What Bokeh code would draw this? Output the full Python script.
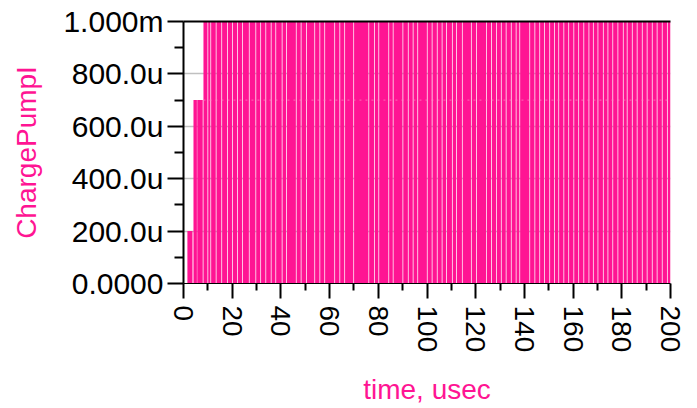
import math
from bokeh.plotting import figure
from bokeh.models import FixedTicker, Range1d, LinearAxis, ColumnDataSource
from bokeh.embed import file_html
from bokeh.resources import INLINE

# ---- data (time in usec, current in uA) ----
# early, lower-level pulses: [start, end, level]
early_start = [1.6, 4.1, 5.65]
early_end = [3.7, 5.5, 7.9]
early_level = [200, 700, 700]

# full-scale region: current is at 1000 uA except for short drop-outs
full_start = 8.2
full_end = 200.0
full_level = 1000
# drop-out (gap) centres, usec
gap_centres = [10.0, 11.2, 13.4, 15.7, 18.1, 20.1, 22.2, 24.2, 27.0, 29.7,
               31.7, 33.8, 36.0, 37.9, 40.5, 42.3, 46.3, 48.3, 50.5, 53.9,
               56.0, 58.0, 62.1, 64.2, 66.2, 69.9, 76.1, 78.4, 80.2, 84.3,
               86.1, 90.1, 92.3, 94.3, 96.2, 100.1, 102.1, 104.2, 106.2, 108.0,
               110.4, 112.1, 114.5, 118.2, 120.3, 124.4, 126.5, 128.5, 130.5,
               132.5, 134.6, 136.6, 138.1, 142.2, 144.3, 146.3, 148.3, 150.4,
               152.4, 154.1, 156.2, 158.2, 160.3, 162.3, 164.4, 166.5, 168.3,
               170.2, 172.4, 174.3, 176.3, 178.4, 180.6, 182.2, 184.3, 186.3,
               188.4, 190.4, 192.5, 194.5, 196.6, 198.7]
gap_width = 0.3
settle_level = 700

x_ticks = [0, 20, 40, 60, 80, 100, 120, 140, 160, 180, 200]
x_minor = [10, 30, 50, 70, 90, 110, 130, 150, 170, 190]
y_ticks = [0, 200, 400, 600, 800, 1000]
y_minor = [100, 300, 500, 700, 900]
y_labels = ["0.0000", "200.0u", "400.0u", "600.0u", "800.0u", "1.000m"]

PINK = "#ff1493"
FONT = "Liberation Sans"

# build high intervals from the gap list
starts, ends, levels = list(early_start), list(early_end), list(early_level)
cur = full_start
for g in gap_centres:
    starts.append(cur)
    ends.append(g - gap_width / 2)
    levels.append(full_level)
    cur = g + gap_width / 2
starts.append(cur)
ends.append(full_end)
levels.append(full_level)

src = ColumnDataSource(dict(left=starts, right=ends, top=levels, bottom=[0] * len(starts)))

p = figure(width=697, height=408, output_backend="svg", toolbar_location=None,
           x_range=Range1d(0, 200), y_range=Range1d(0, 1000),
           min_border_left=183, min_border_right=27, min_border_top=21,
           min_border_bottom=120)
p.outline_line_color = None
p.background_fill_color = "white"
p.border_fill_color = "white"

p.xgrid.visible = False
p.ygrid.grid_line_color = "#c0c0c0"
p.ygrid.grid_line_width = 1.5

p.quad(left="left", right="right", top="top", bottom="bottom", source=src,
       fill_color=PINK, line_color=None)
p.line(x=[full_start, full_end], y=[settle_level, settle_level],
       line_color="#ff8cc8", line_dash="2 4", line_width=1, line_alpha=0.7)

# y axis
ya = p.yaxis[0]
ya.ticker = FixedTicker(ticks=y_ticks, minor_ticks=y_minor)
ya.major_label_overrides = dict(zip(y_ticks, y_labels))
ya.major_tick_out = 16
ya.major_tick_in = 0
ya.minor_tick_out = 9
ya.minor_tick_in = 0
ya.major_label_standoff = 4
ya.axis_line_width = 2
ya.major_tick_line_width = 2
ya.minor_tick_line_width = 2
ya.major_label_text_font = FONT
ya.major_label_text_font_size = "30px"
ya.major_label_text_color = "black"
ya.axis_label = "ChargePumpI"
ya.axis_label_text_color = PINK
ya.axis_label_text_font = FONT
ya.axis_label_text_font_size = "28px"
ya.axis_label_text_font_style = "normal"
ya.axis_label_standoff = 18

# x axis
xa = p.xaxis[0]
xa.ticker = FixedTicker(ticks=x_ticks, minor_ticks=x_minor)
xa.major_tick_out = 15
xa.major_tick_in = 0
xa.minor_tick_out = 7
xa.minor_tick_in = 0
xa.major_label_standoff = 7
xa.axis_line_width = 1
xa.major_tick_line_width = 2
xa.minor_tick_line_width = 2
xa.major_label_orientation = -math.pi / 2
xa.major_label_text_font = FONT
xa.major_label_text_font_size = "28px"
xa.major_label_text_color = "black"
xa.axis_label = "time, usec"
xa.axis_label_text_color = PINK
xa.axis_label_text_font = FONT
xa.axis_label_text_font_size = "28px"
xa.axis_label_text_font_style = "normal"
xa.axis_label_standoff = 19

# top border line only
top = LinearAxis(ticker=FixedTicker(ticks=[]), major_tick_line_color=None,
                 minor_tick_line_color=None, major_label_text_font_size="0px",
                 axis_line_width=2, axis_line_color="black")
p.add_layout(top, "above")

open("out.html", "w").write(file_html(p, INLINE))
